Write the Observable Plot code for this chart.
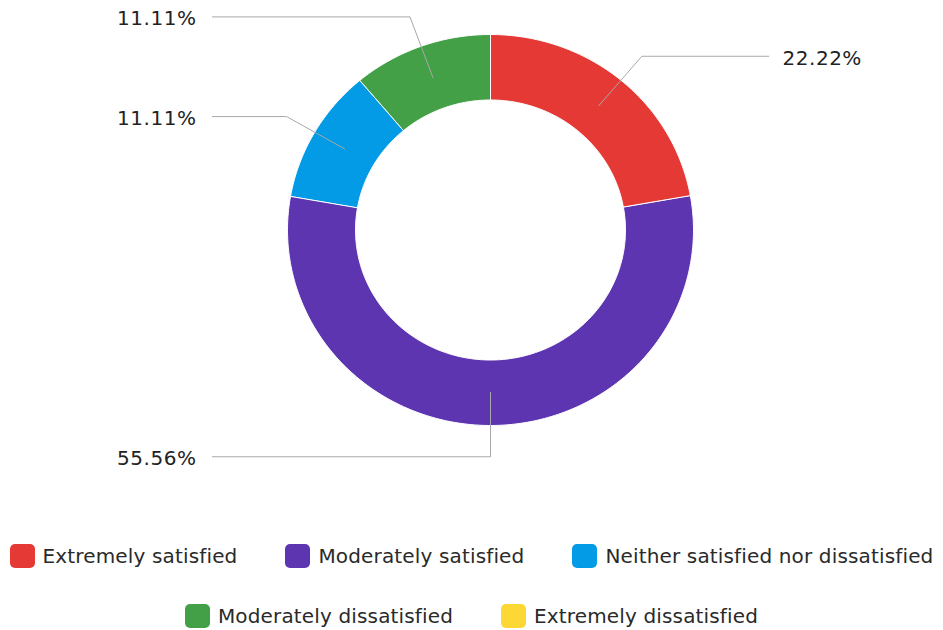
<!DOCTYPE html>
<html><head><meta charset="utf-8">
<script src="https://cdn.jsdelivr.net/npm/d3@7"></script>
<script src="https://cdn.jsdelivr.net/npm/@observablehq/plot@0.6"></script>
<style>
body{margin:0;background:#fff;font-family:"DejaVu Sans", sans-serif;color:#222;}
#legend{width:943px;}
.row{display:flex;justify-content:center;align-items:center;gap:48px;height:60px;white-space:nowrap;}
.item{display:flex;align-items:center;gap:8px;font-size:20px;letter-spacing:0.15px;color:#2a2a2a;}
.sw{width:25px;height:24px;border-radius:5px;display:inline-block;}
#chart svg text{letter-spacing:0.5px;}
</style></head><body><div id="chart"></div><div id="legend"></div>
<script>
const categories = ["Extremely satisfied", "Moderately satisfied", "Neither satisfied nor dissatisfied", "Moderately dissatisfied", "Extremely dissatisfied"];
const shares = [22.22, 55.56, 11.11, 11.11, 0];
const labels = ["22.22%", "55.56%", "11.11%", "11.11%", "0%"];
const colors = ["#e53935", "#5e35b1", "#039be5", "#43a047", "#fdd835"];
const legendRows = [[0, 1, 2], [3, 4]];

const W = 943, H = 526;
const cx = 490, cy = 229.5, rx = 203, ry = 195.5;
const innerR = 0.665, startR = 0.83, elbowR = 1.16, lineEnd = 1.37;

const data = categories.map((c, i) => ({category: c, share: shares[i], label: labels[i], color: colors[i]}));
const arcs = d3.pie().sort(null).value(d => d.share)(data).filter(a => a.data.share > 0);

const poly = [];
for (const a of arcs) {
  const n = Math.max(2, Math.ceil((a.endAngle - a.startAngle) / (Math.PI / 180)) + 1);
  const outer = [], inner = [];
  for (let k = 0; k < n; k++) {
    const t = a.startAngle + (a.endAngle - a.startAngle) * k / (n - 1);
    outer.push({x: Math.sin(t), y: Math.cos(t)});
    inner.push({x: innerR * Math.sin(t), y: innerR * Math.cos(t)});
  }
  for (const p of outer.concat(inner.reverse())) poly.push({...p, category: a.data.category, color: a.data.color});
}

const leaders = [], texts = [];
for (const a of arcs) {
  const m = (a.startAngle + a.endAngle) / 2;
  const right = Math.sin(m) > 1e-6;
  const s = {x: startR * Math.sin(m), y: startR * Math.cos(m)};
  const e = {x: elbowR * Math.sin(m), y: elbowR * Math.cos(m)};
  const end = {x: right ? lineEnd : -lineEnd, y: e.y};
  for (const p of [s, e, end]) leaders.push({...p, category: a.data.category});
  texts.push({x: end.x, y: end.y, label: a.data.label, right});
}

const chart = Plot.plot({
  width: W, height: H, margin: 0,
  x: {domain: [-cx / rx, (W - cx) / rx], axis: null},
  y: {domain: [-(H - cy) / ry, cy / ry], axis: null},
  marks: [
    Plot.line(poly, {x: "x", y: "y", z: "category", fill: d => d.color, stroke: "#fff", strokeWidth: 1, curve: "linear-closed"}),
    Plot.line(leaders, {x: "x", y: "y", z: "category", stroke: "#a8a8a8", strokeWidth: 1}),
    Plot.text(texts.filter(d => d.right), {x: "x", y: "y", text: "label", textAnchor: "start", dx: 14, dy: 2, fontSize: 20, fill: "#222", fontFamily: "DejaVu Sans"}),
    Plot.text(texts.filter(d => !d.right), {x: "x", y: "y", text: "label", textAnchor: "end", dx: -16, dy: 2, fontSize: 20, fill: "#222", fontFamily: "DejaVu Sans"})
  ]
});
document.getElementById("chart").appendChild(chart);

const legend = document.getElementById("legend");
for (const row of legendRows) {
  const r = document.createElement("div");
  r.className = "row";
  for (const i of row) {
    const it = document.createElement("div");
    it.className = "item";
    const sw = document.createElement("span");
    sw.className = "sw";
    sw.style.background = colors[i];
    const tx = document.createElement("span");
    tx.textContent = categories[i];
    it.appendChild(sw); it.appendChild(tx);
    r.appendChild(it);
  }
  legend.appendChild(r);
}
</script></body></html>
